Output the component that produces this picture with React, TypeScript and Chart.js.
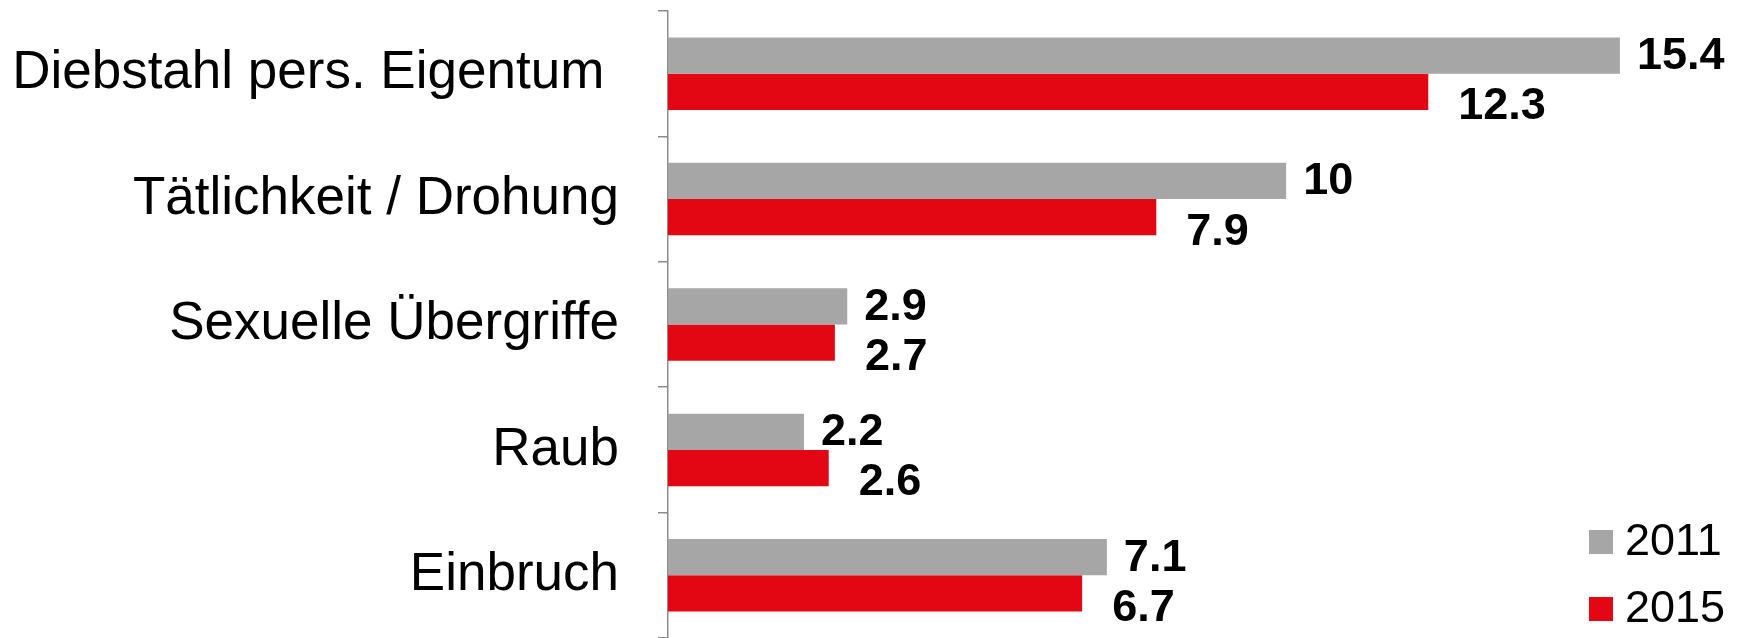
import React, { useEffect, useRef } from "react";
import { Chart, registerables } from "chart.js";

Chart.register(...registerables);

const categories = [
  "Diebstahl pers. Eigentum ",
  "Tätlichkeit / Drohung",
  "Sexuelle Übergriffe",
  "Raub",
  "Einbruch",
];
const seriesLabels = ["2011", "2015"];
const values2011 = [15.4, 10, 2.9, 2.2, 7.1];
const values2015 = [12.3, 7.9, 2.7, 2.6, 6.7];
const valueLabels2011 = ["15.4", "10", "2.9", "2.2", "7.1"];
const valueLabels2015 = ["12.3", "7.9", "2.7", "2.6", "6.7"];

const GRAY = "#A6A6A6";
const RED = "#E30613";
const FONT = "'Liberation Sans', Arial, sans-serif";

const valueLabelPlugin = {
  id: "valueLabels",
  afterDatasetsDraw(chart: any) {
    const ctx = chart.ctx;
    const texts = [valueLabels2011, valueLabels2015];
    const dxs = [17, 30];
    const dys = [1, 15];
    ctx.save();
    ctx.font = `bold 45px ${FONT}`;
    ctx.fillStyle = "#000";
    ctx.textAlign = "left";
    ctx.textBaseline = "middle";
    chart.data.datasets.forEach((ds: any, di: number) => {
      const meta = chart.getDatasetMeta(di);
      meta.data.forEach((bar: any, i: number) => {
        ctx.fillText(texts[di][i], bar.x + dxs[di], bar.y + dys[di]);
      });
    });
    ctx.restore();
  },
};

const legendPlugin = {
  id: "customLegend",
  afterDraw(chart: any) {
    const ctx = chart.ctx;
    ctx.save();
    ctx.font = `45px ${FONT}`;
    ctx.textAlign = "left";
    ctx.textBaseline = "middle";
    chart.data.datasets.forEach((ds: any, di: number) => {
      const boxX = 1589;
      const boxY = 530 + di * 67;
      ctx.fillStyle = ds.backgroundColor;
      ctx.fillRect(boxX, boxY, 24, 24);
      ctx.fillStyle = "#000";
      ctx.fillText(ds.label, boxX + 36, boxY + 13);
    });
    ctx.restore();
  },
};

export default function App() {
  const ref = useRef<HTMLCanvasElement>(null);
  useEffect(() => {
    document.body.style.margin = "0";
    const chart = new Chart(ref.current!, {
      type: "bar",
      data: {
        labels: categories,
        datasets: [
          {
            label: seriesLabels[0],
            data: values2011,
            backgroundColor: GRAY,
            barPercentage: 1,
            categoryPercentage: 0.578,
          },
          {
            label: seriesLabels[1],
            data: values2015,
            backgroundColor: RED,
            barPercentage: 1,
            categoryPercentage: 0.578,
          },
        ],
      },
      options: {
        indexAxis: "y",
        animation: false,
        responsive: false,
        layout: { padding: { top: 11, bottom: -3, left: 0, right: 91 } },
        plugins: {
          legend: { display: false },
          tooltip: { enabled: false },
        },
        scales: {
          x: {
            display: false,
            min: 0,
            max: 16,
          },
          y: {
            afterFit: (scale: any) => {
              scale.width = 668;
              scale.paddingTop = 0;
              scale.paddingBottom = 0;
            },
            grid: {
              display: true,
              drawOnChartArea: false,
              drawTicks: true,
              tickLength: 10,
              color: "#8C8C8C",
              lineWidth: 1.5,
              offset: true,
            },
            border: { display: true, color: "#8C8C8C", width: 1.5 },
            ticks: {
              color: "#000",
              padding: 39,
              font: { family: FONT, size: 53 },
            },
          },
        },
      },
      plugins: [valueLabelPlugin, legendPlugin],
    });
    return () => chart.destroy();
  }, []);
  return (
    <div style={{ position: "absolute", left: 0, top: 0, width: 1748, height: 638, background: "#fff" }}>
      <canvas ref={ref} width={1748} height={638} />
    </div>
  );
}
